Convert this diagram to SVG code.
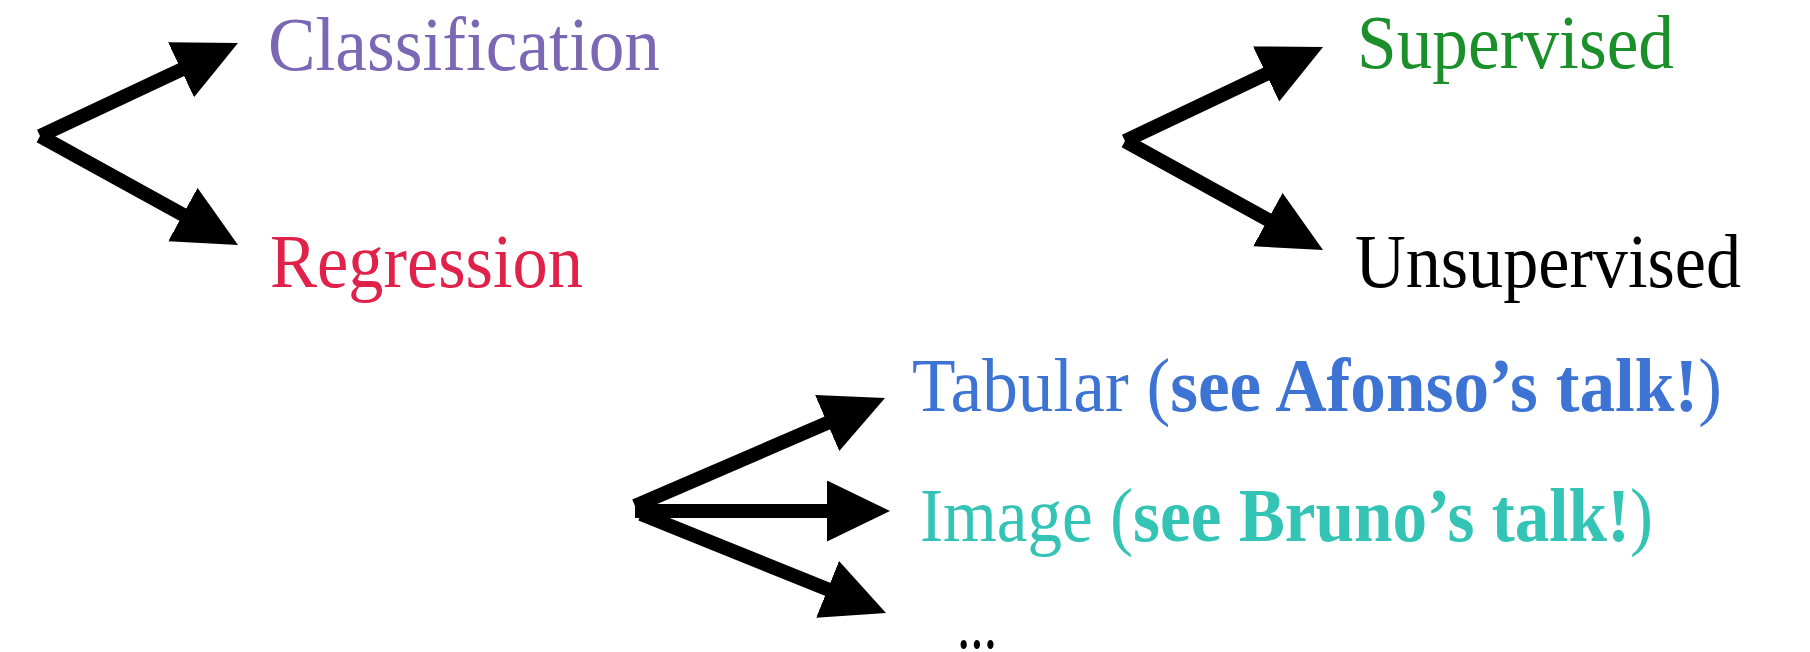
<svg xmlns="http://www.w3.org/2000/svg" width="1810" height="652" viewBox="0 0 1810 652">
<style>
.lbl{font-family:"Liberation Serif","DejaVu Serif",serif;font-size:76px}
.b{font-weight:bold}
.conn line{stroke:#000;stroke-width:14;marker-end:url(#ah)}
</style>
<defs>
<marker id="ah" markerUnits="userSpaceOnUse" markerWidth="64" markerHeight="62" refX="18" refY="30.5" orient="auto" viewBox="0 0 64 62">
<path d="M0,0 L63,30.5 L0,61 Z" fill="#000"/>
</marker>
</defs>
<rect width="1810" height="652" fill="#fff"/>
<g id="connectors" class="conn">
<line x1="40" y1="136" x2="197.3" y2="62.1"/>
<line x1="40" y1="136" x2="198.6" y2="223.3"/>
<line x1="1125" y1="141" x2="1282.4" y2="66.3"/>
<line x1="1125" y1="141" x2="1283.6" y2="228.3"/>
<line x1="635" y1="506" x2="843.7" y2="415.9"/>
<line x1="635" y1="511" x2="845" y2="511"/>
<line x1="641" y1="514" x2="844.3" y2="596.1"/>
</g>
<g id="classification"><text class="lbl" x="268" y="70" fill="#7b68b5" textLength="392" lengthAdjust="spacingAndGlyphs">Classification</text></g>
<g id="regression"><text class="lbl" x="270" y="287" fill="#e0224a" textLength="313" lengthAdjust="spacingAndGlyphs">Regression</text></g>
<g id="supervised"><text class="lbl" x="1357" y="68" fill="#1a8f2a" textLength="317" lengthAdjust="spacingAndGlyphs">Supervised</text></g>
<g id="unsupervised"><text class="lbl" x="1355" y="287" fill="#000" textLength="386" lengthAdjust="spacingAndGlyphs">Unsupervised</text></g>
<g id="tabular"><text class="lbl" x="912" y="411" fill="#3d74d4" textLength="810" lengthAdjust="spacingAndGlyphs">Tabular (<tspan class="b">see Afonso’s talk!</tspan>)</text></g>
<g id="image"><text class="lbl" x="920" y="541" fill="#33c4b5" textLength="733" lengthAdjust="spacingAndGlyphs">Image (<tspan class="b">see Bruno’s talk!</tspan>)</text></g>
<g id="more"><text class="lbl" x="957" y="648" fill="#000" textLength="40" lengthAdjust="spacingAndGlyphs">...</text></g>
</svg>
